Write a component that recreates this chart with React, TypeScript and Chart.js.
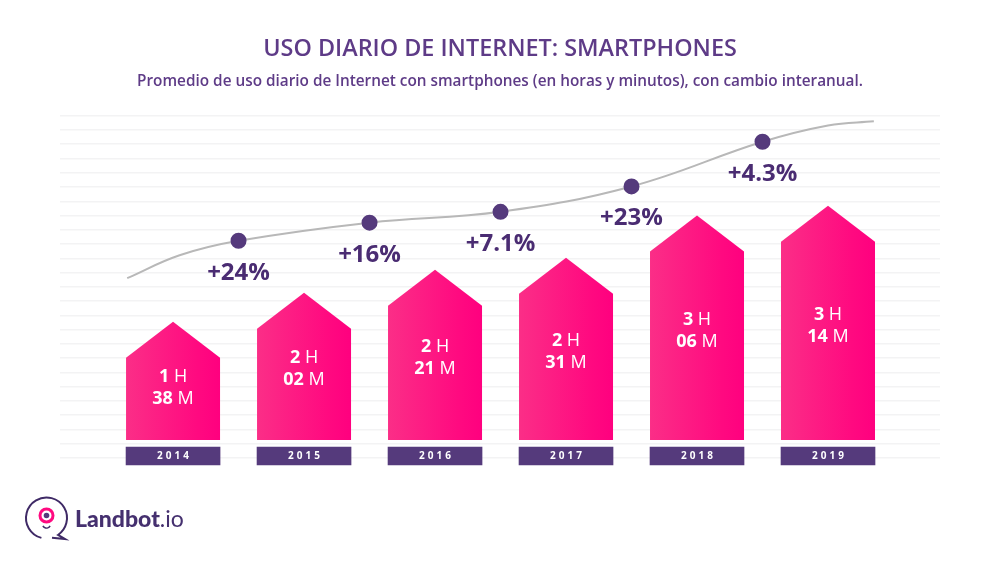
import { useEffect, useRef } from 'react';
import Chart from 'chart.js/auto';

const years = [2014, 2015, 2016, 2017, 2018, 2019];
const minutes = [98, 122, 141, 151, 186, 194];
const hourText = ['1', '2', '2', '2', '3', '3'];
const minuteText = ['38', '02', '21', '31', '06', '14'];

// grey curve, the dots sit half way between the years
const trendX = [2013.65, 2014.05, 2014.5, 2015.5, 2016.5, 2017.5, 2018.5, 2019.0, 2019.35];
const trendY = [134, 153, 165, 180, 189, 210, 247, 260.5, 264];
const trendDots = [0, 0, 7, 7, 7, 7, 7, 0, 0];
const trendLabels = ['', '', '+24%', '+16%', '+7.1%', '+23%', '+4.3%', '', ''];

const TITLE = 'USO DIARIO DE INTERNET: SMARTPHONES';
const SUBTITLE = 'Promedio de uso diario de Internet con smartphones (en horas y minutos), con cambio interanual.';

const PURPLE = '#553a7c';
const DARK = '#4a2c72';
const FONT = '"Open Sans", sans-serif';

const housePlugin = {
  id: 'house',
  afterDatasetsDraw(chart: any) {
    const { ctx } = chart;
    const bars = chart.getDatasetMeta(0).data;
    bars.forEach((bar: any, i: number) => {
      const half = bar.width / 2;
      const drop = 36;
      const grad = ctx.createLinearGradient(bar.x - half, 0, bar.x + half, 0);
      grad.addColorStop(0, '#fb2e87');
      grad.addColorStop(0.75, '#ff0a80');
      grad.addColorStop(1, '#ff007f');
      ctx.save();
      ctx.fillStyle = grad;
      ctx.beginPath();
      ctx.moveTo(bar.x - half, bar.base);
      ctx.lineTo(bar.x - half, bar.y + drop);
      ctx.lineTo(bar.x, bar.y);
      ctx.lineTo(bar.x + half, bar.y + drop);
      ctx.lineTo(bar.x + half, bar.base);
      ctx.closePath();
      ctx.fill();

      // "1 H" / "38 M", kept clear of the roof on short bars
      const first = Math.max((bar.y + bar.base) / 2 - 8, bar.y + drop + 19);
      ctx.fillStyle = '#fff';
      ctx.textBaseline = 'middle';
      ctx.textAlign = 'left';
      const rows = [[hourText[i], 'H', first], [minuteText[i], 'M', first + 22]] as const;
      rows.forEach(([num, unit, y]) => {
        ctx.font = `700 18px ${FONT}`;
        const w1 = ctx.measureText(num + ' ').width;
        ctx.font = `400 18px ${FONT}`;
        const w2 = ctx.measureText(unit).width;
        const left = bar.x - (w1 + w2) / 2;
        ctx.fillText(unit, left + w1, y);
        ctx.font = `700 18px ${FONT}`;
        ctx.fillText(num, left, y);
      });
      ctx.restore();
    });

    // year plates
    const plates = chart.getDatasetMeta(1).data;
    plates.forEach((plate: any, i: number) => {
      ctx.save();
      ctx.font = `700 10px ${FONT}`;
      (ctx as any).letterSpacing = '3px';
      ctx.fillStyle = '#fff';
      ctx.textAlign = 'center';
      ctx.textBaseline = 'middle';
      ctx.fillText(String(years[i]), plate.x + 1.5, (plate.y + plate.base) / 2 + 0.5);
      ctx.restore();
    });

    // change labels below the dots
    const pts = chart.getDatasetMeta(2).data;
    pts.forEach((pt: any, i: number) => {
      if (!trendLabels[i]) return;
      ctx.save();
      ctx.font = `700 24px ${FONT}`;
      ctx.fillStyle = DARK;
      ctx.textAlign = 'center';
      ctx.textBaseline = 'middle';
      ctx.fillText(trendLabels[i], pt.x, pt.y + 32);
      ctx.restore();
    });

    drawLogo(ctx);
  },
};

function drawLogo(ctx: CanvasRenderingContext2D) {
  ctx.save();
  ctx.strokeStyle = '#3f2a66';
  ctx.lineWidth = 2;
  ctx.beginPath();
  ctx.arc(46.5, 518, 20.5, 0.58 * Math.PI, 2.31 * Math.PI, false);
  ctx.lineTo(65, 539);
  ctx.lineTo(52, 537.7);
  ctx.stroke();

  ctx.strokeStyle = '#ff0a80';
  ctx.lineWidth = 3;
  ctx.beginPath();
  ctx.arc(46.5, 515.5, 6.5, 0, Math.PI * 2);
  ctx.stroke();
  ctx.fillStyle = PURPLE;
  ctx.beginPath();
  ctx.arc(46.5, 515.5, 2.8, 0, Math.PI * 2);
  ctx.fill();
  ctx.strokeStyle = '#3f2a66';
  ctx.lineWidth = 1.5;
  ctx.beginPath();
  ctx.arc(46.5, 524, 4, 0.15 * Math.PI, 0.85 * Math.PI);
  ctx.stroke();

  ctx.fillStyle = '#45306f';
  ctx.textAlign = 'left';
  ctx.textBaseline = 'alphabetic';
  ctx.font = '900 23px Lato, sans-serif';
  ctx.fillText('Landbot', 75, 527);
  const w = ctx.measureText('Landbot').width;
  ctx.font = '400 23px Lato, sans-serif';
  ctx.fillText('.io', 75 + w, 527);
  ctx.restore();
}

export default function App() {
  const canvasRef = useRef<HTMLCanvasElement | null>(null);

  useEffect(() => {
    document.body.style.margin = '0';
    if (!canvasRef.current) return;
    const ctx = canvasRef.current.getContext('2d');
    if (!ctx) return;

    const chart = new Chart(ctx, {
      type: 'bar',
      plugins: [housePlugin],
      data: {
        datasets: [
          {
            data: years.map((x, i) => ({ x, y: minutes[i] })),
            backgroundColor: 'rgba(0,0,0,0)',
            barThickness: 94,
            grouped: false,
            clip: false,
            yAxisID: 'y',
          },
          {
            data: years.map((x) => ({ x, y: [-20.7, -5.8] })),
            backgroundColor: PURPLE,
            barThickness: 94,
            grouped: false,
            clip: false,
            yAxisID: 'y',
          },
          {
            type: 'line',
            data: trendX.map((x, i) => ({ x, y: trendY[i] })),
            borderColor: '#b8b8b8',
            borderWidth: 2,
            tension: 0.4,
            pointRadius: trendDots,
            pointBackgroundColor: PURPLE,
            pointBorderColor: PURPLE,
            yAxisID: 'y',
          },
        ],
      } as any,
      options: {
        responsive: false,
        animation: false,
        devicePixelRatio: 1,
        layout: { padding: { left: 60, right: 61, top: 0, bottom: 105 } },
        plugins: {
          legend: { display: false },
          tooltip: { enabled: false },
          title: {
            display: true,
            text: TITLE,
            color: '#5e3b87',
            font: { family: FONT, size: 23.4, weight: 600, lineHeight: 1.2 },
            padding: { top: 35, bottom: 9.5 },
          },
          subtitle: {
            display: true,
            text: SUBTITLE,
            color: '#5e3b87',
            font: { family: FONT, size: 15.33, weight: 600, lineHeight: 1.2 },
            padding: { top: 0, bottom: 24.7 },
          },
        },
        scales: {
          x: { type: 'linear', display: false, offset: false, min: 2013.137, max: 2019.855 },
          y: { display: false, min: -14.9, max: 268.6 },
          lines: {
            position: 'left',
            min: 0,
            max: 24,
            ticks: { display: false, stepSize: 1 },
            border: { display: false },
            grid: { color: '#f3f3f4', lineWidth: 1.5, drawTicks: false },
          },
        },
      } as any,
    });

    return () => chart.destroy();
  }, []);

  return <canvas ref={canvasRef} width={1001} height={563} style={{ display: 'block' }} />;
}
